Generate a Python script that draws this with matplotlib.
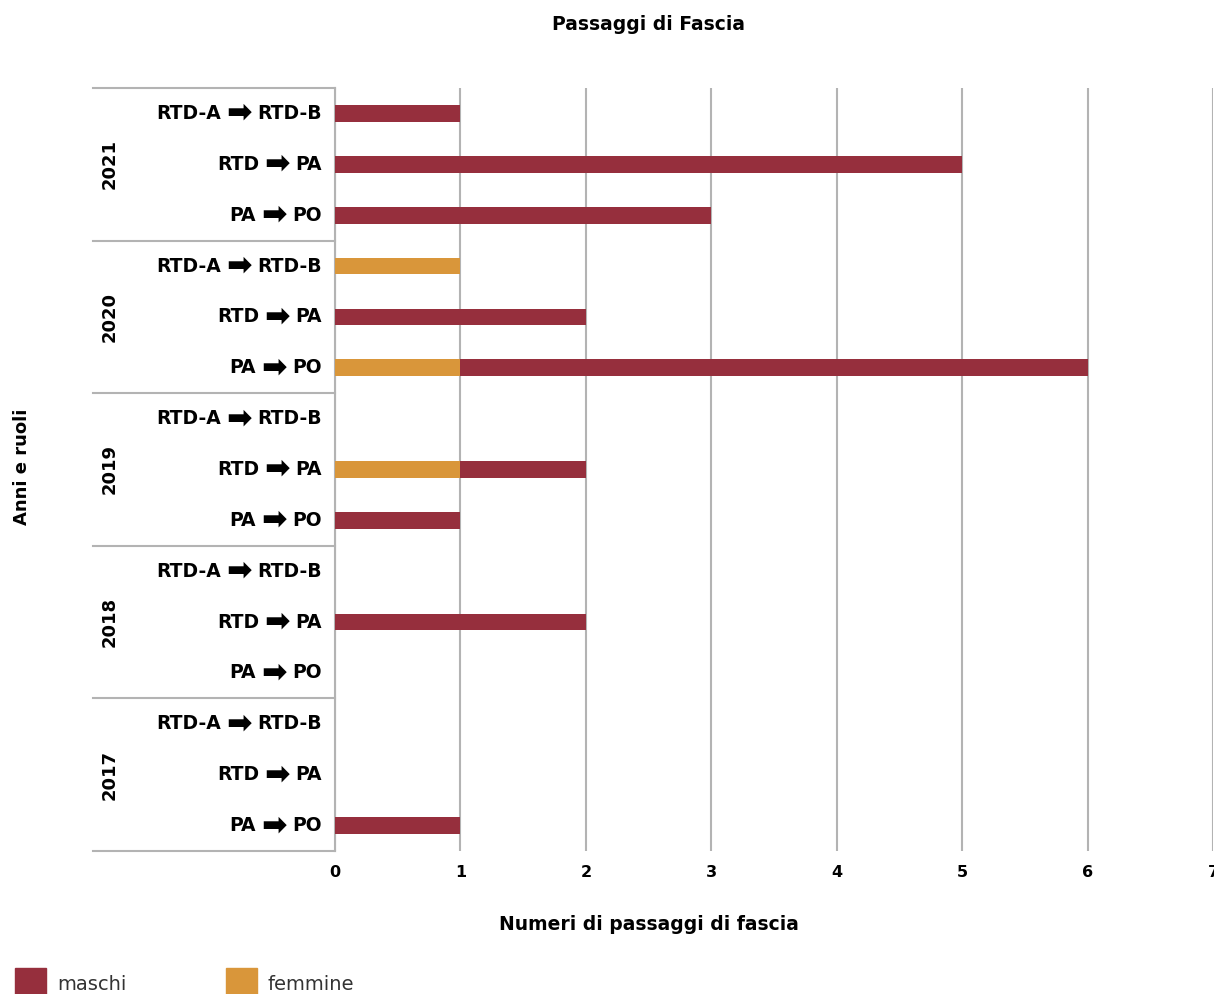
import numpy as np
import matplotlib.pyplot as plt
import matplotlib.transforms as mtransforms
from matplotlib.offsetbox import TextArea, HPacker, AnnotationBbox

# passaggi di fascia per anno e ruolo
anni = ['2021', '2020', '2019', '2018', '2017']
ruoli = [('RTD-A', 'RTD-B'), ('RTD', 'PA'), ('PA', 'PO')]
maschi = [1, 5, 3,
          0, 2, 5,
          0, 1, 1,
          0, 2, 0,
          0, 0, 1]
femmine = [0, 0, 0,
           1, 0, 1,
           0, 1, 0,
           0, 0, 0,
           0, 0, 0]

col_m = '#962f3d'
col_f = '#d9963a'
grid_col = '#b3b3b3'

plt.rcParams['font.family'] = ['DejaVu Sans']

fig = plt.figure(figsize=(12.14, 9.94), dpi=100)
ax = fig.add_axes([335 / 1214, 1 - 851 / 994, 878 / 1214, 763 / 994])

n = len(maschi)
y = np.arange(n)
femmine = np.array(femmine)
maschi = np.array(maschi)

ax.barh(y, femmine, height=0.33, color=col_f, zorder=3)
ax.barh(y, maschi, left=femmine, height=0.33, color=col_m, zorder=3)

ax.set_xlim(0, 7)
ax.set_ylim(n - 0.5, -0.5)
ax.set_xticks(range(8))
ax.set_xticklabels([str(i) for i in range(8)], fontsize=11.5, fontweight='bold')
ax.set_yticks(y)
ax.set_yticklabels([])
ax.tick_params(axis='both', length=0)
ax.tick_params(axis='x', pad=10)

ax.grid(axis='x', color=grid_col, linewidth=1.5, zorder=0)
for s in ['top', 'right', 'bottom']:
    ax.spines[s].set_visible(False)
ax.spines['left'].set_color(grid_col)
ax.spines['left'].set_linewidth(1.5)

trans = mtransforms.blended_transform_factory(ax.transAxes, ax.transData)

# etichette dei ruoli con freccia grande
tp = dict(fontsize=13.5, fontweight='bold', color='black')
tp_arrow = dict(fontsize=22, fontweight='bold', color='black')
for i in range(n):
    da, a = ruoli[i % 3]
    box = HPacker(children=[TextArea(da, textprops=tp),
                            TextArea('➡', textprops=tp_arrow),
                            TextArea(a, textprops=tp)],
                  align='center', pad=0, sep=4)
    ab = AnnotationBbox(box, (-13 / 878, i), xycoords=trans,
                        box_alignment=(1, 0.5), frameon=False, pad=0)
    ax.add_artist(ab)

# righe di separazione tra gli anni e etichette dell'anno
x0 = (93 - 335) / 878
for k in range(len(anni) + 1):
    yy = k * 3 - 0.5
    ax.plot([x0, 0], [yy, yy], color=grid_col, linewidth=1.5,
            transform=trans, clip_on=False)
for k, anno in enumerate(anni):
    ax.text((110 - 335) / 878, k * 3 + 1, anno, transform=trans,
            rotation=90, ha='center', va='center',
            fontsize=13, fontweight='bold')

fig.text(22 / 1214, 1 - 467 / 994, 'Anni e ruoli', rotation=90,
         ha='center', va='center', fontsize=13, fontweight='bold')
fig.text(649 / 1214, 1 - 24 / 994, 'Passaggi di Fascia',
         ha='center', va='center', fontsize=13.5, fontweight='bold')
fig.text(649 / 1214, 1 - 925 / 994, 'Numeri di passaggi di fascia',
         ha='center', va='center', fontsize=13.5, fontweight='bold')

# legenda in basso
for xl, lab, c in [(15, 'maschi', col_m), (226, 'femmine', col_f)]:
    fig.patches.append(plt.Rectangle((xl / 1214, 0), 31 / 1214, 26 / 994,
                                     transform=fig.transFigure, color=c))
    fig.text((xl + 42) / 1214, 1 - 985 / 994, lab, ha='left', va='center',
             fontsize=14, color='#333333')

fig.savefig('out.png', dpi=100)
